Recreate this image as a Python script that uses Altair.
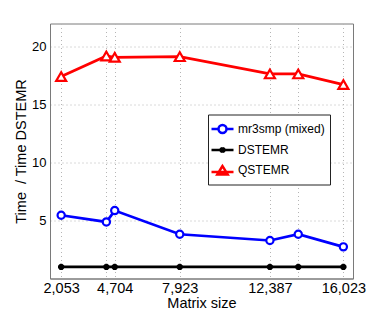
import altair as alt
import pandas as pd

# Data
sizes = [2053, 4290, 4704, 7923, 12387, 13790, 16023]
labeled_sizes = [2053, 4704, 7923, 12387, 16023]
mr3smp = [5.46, 4.88, 5.86, 3.82, 3.28, 3.82, 2.73]
dstemr = [1.0, 1.0, 1.0, 1.0, 1.0, 1.0, 1.0]
qstemr = [17.42, 19.2, 19.08, 19.14, 17.65, 17.65, 16.73]
series_names = ["mr3smp (mixed)", "DSTEMR", "QSTEMR"]
series_colors = ["#0000ff", "#000000", "#ff0000"]

rows = []
for name, vals in zip(series_names, [mr3smp, dstemr, qstemr]):
    for s, v in zip(sizes, vals):
        rows.append({"series": name, "size": s, "value": v})
df = pd.DataFrame(rows)

FONT = "Liberation Sans"
ASTER = "M-1,0L1,0M-0.7,-0.7L0.7,0.7M-0.7,0.7L0.7,-0.7M0,-1L0,1"

label_expr = ("indexof(" + str(labeled_sizes) + ", datum.value) >= 0 ? "
              "format(datum.value, ',') : ''")

x_enc = alt.X("size:Q",
              scale=alt.Scale(domain=[1500, 16500], nice=False, zero=False),
              axis=alt.Axis(values=sizes, labelExpr=label_expr, title="Matrix size",
                            grid=True, ticks=False, labelOverlap=False,
                            labelFlush=False, labelPadding=3, titlePadding=1,
                            labelFontSize=14.5))
y_enc = alt.Y("value:Q",
              scale=alt.Scale(domain=[0, 22], nice=False),
              axis=alt.Axis(values=[5, 10, 15, 20], title="Time\u00a0\u00a0/ Time DSTEMR",
                            grid=True, ticks=False, labelPadding=4, titlePadding=3,
                            labelFontSize=13))
color_scale = alt.Scale(domain=series_names, range=series_colors)

base = alt.Chart(df)

lines = base.mark_line(strokeWidth=2.7).encode(
    x=x_enc, y=y_enc,
    color=alt.Color("series:N", scale=color_scale, legend=None),
    detail="series:N",
)

def marker_layer(name, shape, size):
    return base.transform_filter(alt.datum.series == name).mark_point(
        shape=shape, size=size, filled=False, strokeWidth=2.2, opacity=1,
        fill="white", fillOpacity=1 if shape != ASTER else 0
    ).encode(
        x=x_enc, y=y_enc,
        color=alt.Color("series:N", scale=color_scale, legend=None),
    )

m1 = marker_layer("mr3smp (mixed)", "circle", 52)
m2 = marker_layer("DSTEMR", ASTER, 40)
m3 = marker_layer("QSTEMR", "triangle-up", 100)

# legend symbols: line sample + marker
leg_circle = "M-1.375,0L-0.5,0M0.5,0L1.375,0M0.5,0A0.5,0.5,0,1,1,-0.5,0A0.5,0.5,0,1,1,0.5,0"
leg_aster = ("M-1.375,0L1.375,0M-0.28,-0.28L0.28,0.28M-0.28,0.28L0.28,-0.28"
             "M0,-0.35L0,0.35")
leg_tri = "M-1.375,0.25L1.375,0.25M0,-0.5L-0.65,0.55L0.65,0.55Z"

legend = alt.Legend(orient="none", legendX=158, legendY=91, title=None,
                    padding=5, strokeColor="#222222", fillColor="white",
                    cornerRadius=0,
                    labelFont=FONT, labelFontSize=12, labelColor="#000000",
                    labelOffset=6, rowPadding=2, symbolStrokeWidth=2.5,
                    symbolSize=256, symbolFillColor="transparent",
                    symbolOpacity=1)

legend_layer = base.transform_filter("false").mark_point(
    filled=False, size=256, strokeWidth=2.5, opacity=1
).encode(
    x=x_enc, y=y_enc,
    color=alt.Color("series:N", scale=color_scale, legend=legend),
    shape=alt.Shape("series:N",
                    scale=alt.Scale(domain=series_names,
                                    range=[leg_circle, leg_aster, leg_tri]),
                    legend=legend),
)

chart = alt.layer(legend_layer, lines, m1, m2, m3).properties(
    width=303, height=255,
    background="white",
    autosize=alt.AutoSizeParams(type="none"),
    padding={"left": 42, "top": 15.5, "right": 29, "bottom": 36},
).configure_view(
    stroke="#7a7a7a", strokeWidth=1
).configure_axis(
    labelFont=FONT, titleFont=FONT, titleFontSize=14.5,
    labelColor="#000000", titleColor="#000000", titleFontWeight="normal",
    domainColor="#7a7a7a", gridColor="#b5b5b5", gridDash=[1, 3], gridWidth=1,
)

chart.save("out.html", embed_options={"renderer": "svg", "actions": False})
